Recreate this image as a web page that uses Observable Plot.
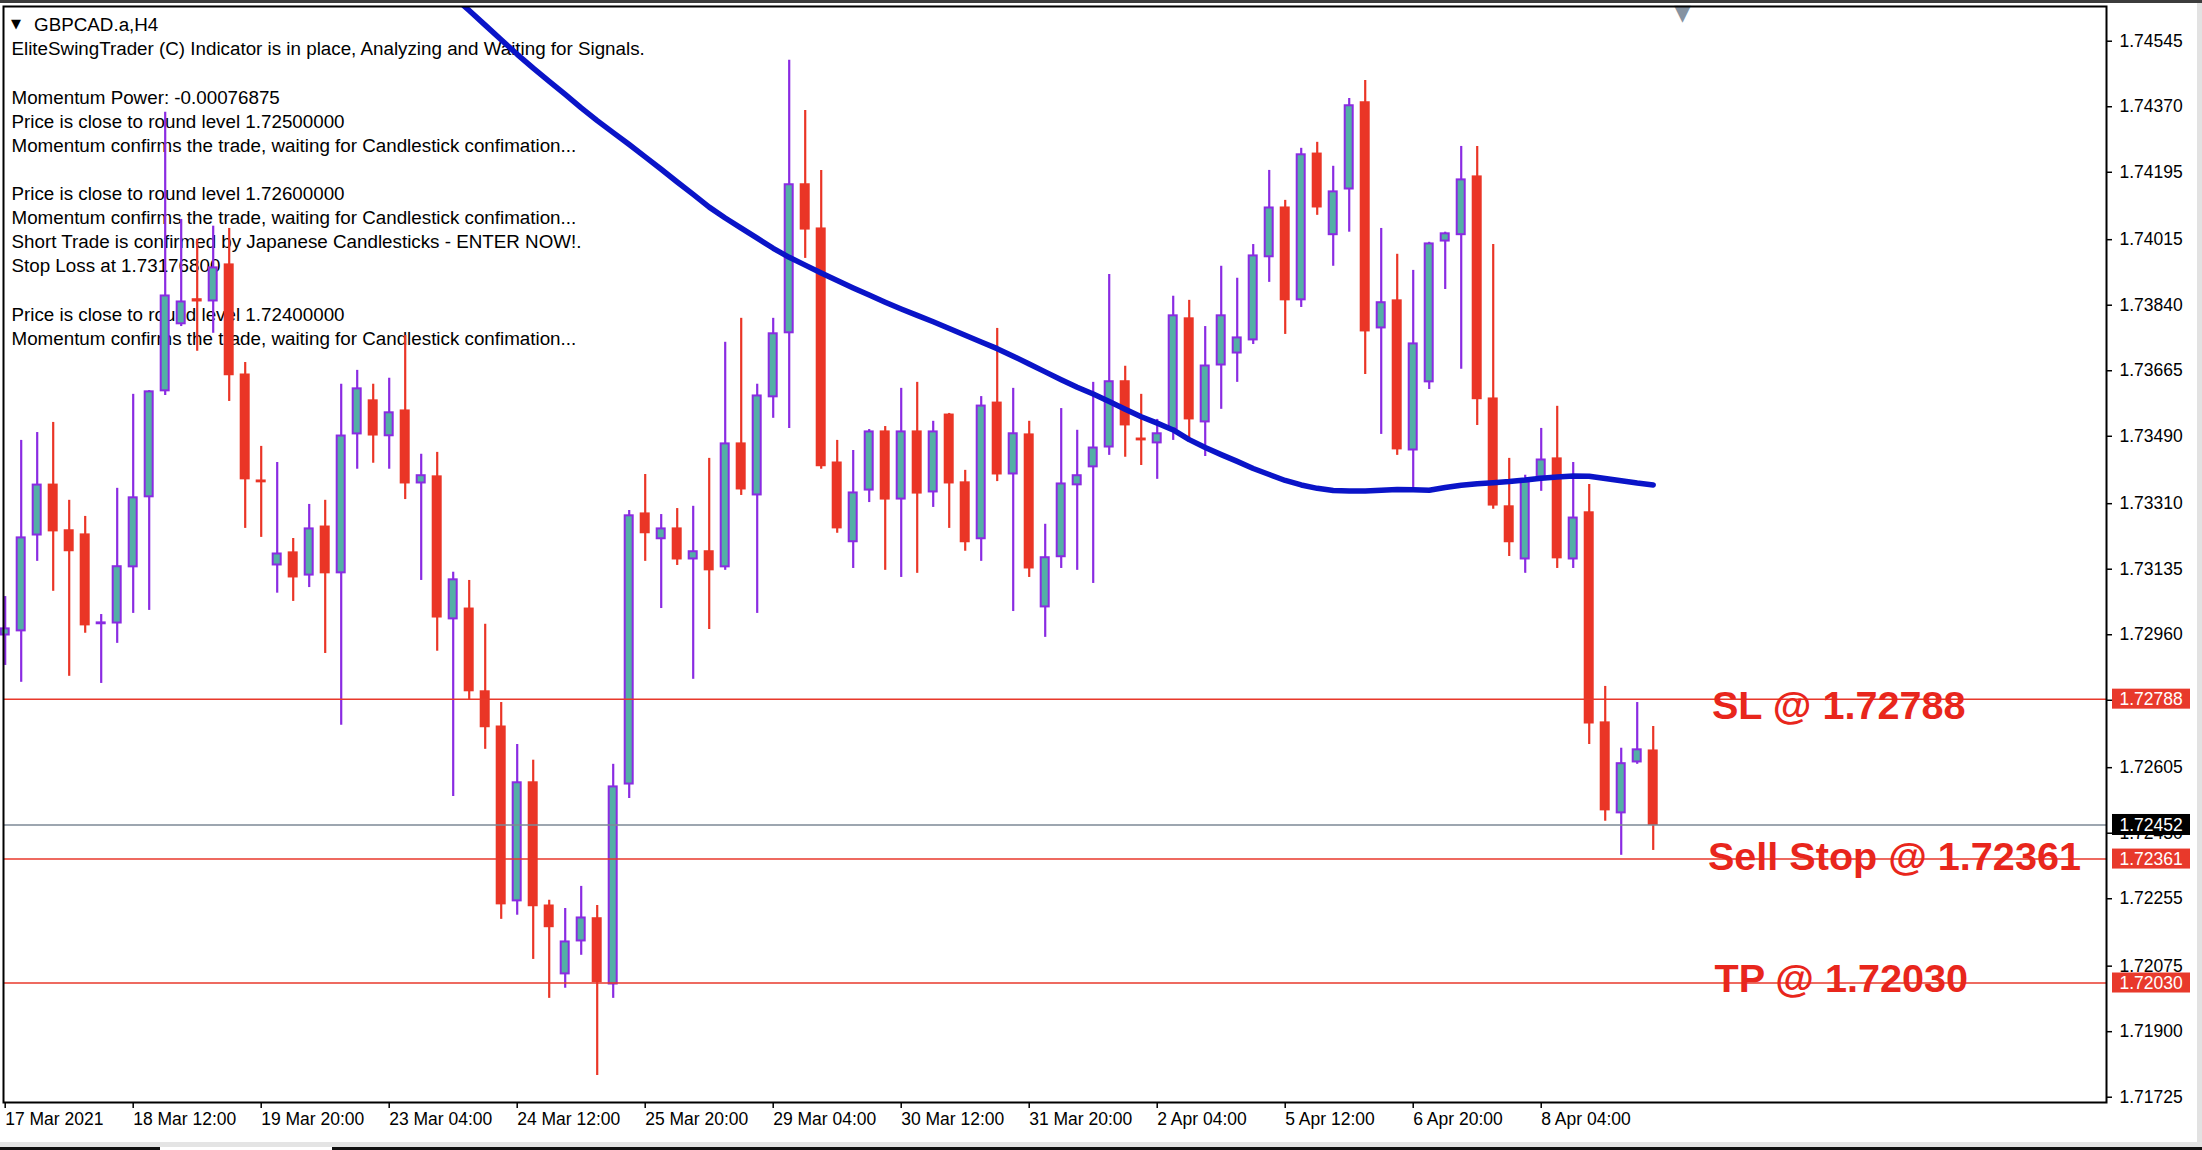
<!DOCTYPE html>
<html><head><meta charset="utf-8">
<script src="https://cdn.jsdelivr.net/npm/d3@7"></script>
<script src="https://cdn.jsdelivr.net/npm/@observablehq/plot@0.6"></script>
<style>
html,body{margin:0;padding:0;background:#fff;}
#wrap{position:relative;width:2202px;height:1150px;overflow:hidden;background:#fff;}
.chrome{position:absolute;}
</style></head><body>
<div id="wrap"></div>
<script>
// ---- data (GBPCAD.a, H4) ----
const openP  = [1.72958,1.72969,1.73225,1.73361,1.73239,1.73228,1.72988,1.72990,1.73140,1.73327,
1.73610,1.73789,1.73856,1.73850,1.73949,1.73655,1.73372,1.73145,1.73180,1.73118,
1.73249,1.73124,1.73495,1.73586,1.73490,1.73559,1.73364,1.73383,1.73001,1.73030,
1.72809,1.72715,1.72248,1.72566,1.72237,1.72053,1.72141,1.72203,1.72026,1.72560,
1.73284,1.73215,1.73244,1.73161,1.73183,1.73140,1.73471,1.73332,1.73594,1.73765,
1.74163,1.74045,1.73420,1.73207,1.73345,1.73503,1.73321,1.73503,1.73340,1.73548,
1.73367,1.73215,1.73580,1.73388,1.73495,1.73033,1.73167,1.73359,1.73407,1.73460,
1.73637,1.73484,1.73471,1.73508,1.73805,1.73527,1.73679,1.73711,1.73746,1.73968,
1.74101,1.73853,1.74245,1.74027,1.74149,1.74382,1.73778,1.73853,1.73452,1.73634,
1.74010,1.74027,1.74184,1.73591,1.73303,1.73161,1.73380,1.73431,1.73161,1.73287,
1.72726,1.72483,1.72619,1.72651];
const highP  = [1.73062,1.73479,1.73500,1.73527,1.73319,1.73276,1.73014,1.73351,1.73602,1.73612,
1.74355,1.74069,1.74016,1.74051,1.74045,1.73687,1.73463,1.73420,1.73217,1.73308,
1.73319,1.73629,1.73666,1.73629,1.73645,1.73759,1.73442,1.73447,1.73127,1.73105,
1.72988,1.72779,1.72667,1.72625,1.72251,1.72229,1.72288,1.72237,1.72614,1.73292,
1.73388,1.73281,1.73297,1.73303,1.73431,1.73741,1.73805,1.73629,1.73805,1.74494,
1.74360,1.74200,1.73479,1.73452,1.73508,1.73516,1.73618,1.73634,1.73530,1.73551,
1.73399,1.73596,1.73778,1.73618,1.73530,1.73255,1.73564,1.73506,1.73634,1.73922,
1.73677,1.73602,1.73535,1.73864,1.73853,1.73783,1.73944,1.73912,1.74002,1.74200,
1.74120,1.74259,1.74275,1.74211,1.74392,1.74440,1.74045,1.73976,1.73933,1.74008,
1.74035,1.74264,1.74264,1.74002,1.73431,1.73386,1.73511,1.73570,1.73420,1.73361,
1.72822,1.72657,1.72779,1.72715];
const lowP   = [1.72878,1.72833,1.73156,1.73076,1.72849,1.72964,1.72830,1.72937,1.73017,1.73025,
1.73599,1.73783,1.73717,1.73765,1.73583,1.73244,1.73220,1.73071,1.73049,1.73086,
1.72910,1.72718,1.73402,1.73418,1.73402,1.73321,1.73105,1.72916,1.72528,1.72787,
1.72654,1.72200,1.72211,1.72093,1.71989,1.72016,1.72104,1.71783,1.71989,1.72523,
1.73156,1.73030,1.73145,1.72841,1.72974,1.73132,1.73332,1.73017,1.73538,1.73511,
1.73965,1.73402,1.73231,1.73137,1.73313,1.73132,1.73113,1.73124,1.73300,1.73244,
1.73183,1.73156,1.73369,1.73022,1.73113,1.72953,1.73137,1.73132,1.73097,1.73439,
1.73434,1.73412,1.73375,1.73479,1.73474,1.73436,1.73562,1.73634,1.73735,1.73901,
1.73762,1.73834,1.74080,1.73944,1.74035,1.73655,1.73495,1.73439,1.73343,1.73615,
1.73882,1.73669,1.73519,1.73295,1.73169,1.73124,1.73343,1.73137,1.73137,1.72667,
1.72462,1.72371,1.72614,1.72384];
const closeP = [1.72977,1.73220,1.73361,1.73236,1.73183,1.72985,1.72993,1.73143,1.73327,1.73610,
1.73866,1.73850,1.73850,1.73941,1.73653,1.73375,1.73367,1.73177,1.73113,1.73244,
1.73124,1.73492,1.73618,1.73492,1.73554,1.73364,1.73386,1.73006,1.73108,1.72809,
1.72713,1.72240,1.72566,1.72235,1.72179,1.72141,1.72205,1.72032,1.72555,1.73279,
1.73231,1.73244,1.73161,1.73183,1.73132,1.73471,1.73348,1.73599,1.73765,1.74163,
1.74042,1.73410,1.73244,1.73340,1.73503,1.73321,1.73503,1.73337,1.73503,1.73364,
1.73207,1.73572,1.73388,1.73498,1.73137,1.73167,1.73364,1.73386,1.73460,1.73637,
1.73519,1.73479,1.73498,1.73813,1.73535,1.73679,1.73813,1.73754,1.73973,1.74101,
1.73853,1.74243,1.74101,1.74144,1.74374,1.73770,1.73848,1.73455,1.73738,1.74005,
1.74032,1.74176,1.73589,1.73305,1.73207,1.73369,1.73428,1.73164,1.73273,1.72723,
1.72491,1.72617,1.72654,1.72452];

// moving average (blue), starting at bar 27
const maStart = 27;
const maValues = [1.74705,1.74665,1.74627,1.74588,1.74549,1.74510,1.74473,1.74438,1.74403,1.74367,
1.74333,1.74301,1.74269,1.74236,1.74203,1.74169,1.74136,1.74102,1.74073,1.74046,
1.74019,1.73992,1.73968,1.73947,1.73926,1.73906,1.73886,1.73867,1.73848,1.73830,
1.73813,1.73796,1.73778,1.73760,1.73742,1.73724,1.73704,1.73683,1.73662,1.73641,
1.73621,1.73603,1.73583,1.73562,1.73542,1.73525,1.73507,1.73481,1.73460,1.73441,
1.73423,1.73404,1.73388,1.73372,1.73360,1.73351,1.73345,1.73344,1.73344,1.73346,
1.73348,1.73347,1.73346,1.73353,1.73359,1.73363,1.73366,1.73369,1.73373,1.73378,
1.73381,1.73384,1.73383,1.73377,1.73371,1.73365,1.73360];

const yTicks = [1.74545,1.74370,1.74195,1.74015,1.73840,1.73665,1.73490,1.73310,1.73135,1.72960,
1.72785,1.72605,1.72430,1.72255,1.72075,1.71900,1.71725];
const xTickBars = [0,8,16,24,32,40,48,56,64,72,80,88,96];
const xTickLabels = ["17 Mar 2021","18 Mar 12:00","19 Mar 20:00","23 Mar 04:00","24 Mar 12:00",
"25 Mar 20:00","29 Mar 04:00","30 Mar 12:00","31 Mar 20:00","2 Apr 04:00","5 Apr 12:00",
"6 Apr 20:00","8 Apr 04:00"];

const tradeLevels = [1.72788, 1.72361, 1.72030];        // SL, Sell Stop, TP
const currentPrice = 1.72452;
const levelTexts = ["SL @ 1.72788", "Sell Stop @ 1.72361", "TP @ 1.72030"];
const levelTextPrice = [1.72774, 1.72370, 1.72044];
const levelTextBar = [106.67, 106.42, 106.83];
const shiftMarkBar = 104.83;

const titleText = "GBPCAD.a,H4";
const infoLines = [
"EliteSwingTrader (C) Indicator is in place, Analyzing and Waiting for Signals.",
"",
"Momentum Power: -0.00076875",
"Price is close to round level 1.72500000",
"Momentum confirms the trade, waiting for Candlestick confimation...",
"",
"Price is close to round level 1.72600000",
"Momentum confirms the trade, waiting for Candlestick confimation...",
"Short Trade is confirmed by Japanese Candlesticks - ENTER NOW!.",
"Stop Loss at 1.73176800",
"",
"Price is close to round level 1.72400000",
"Momentum confirms the trade, waiting for Candlestick confimation..."
];

// ---- styles ----
const RED = "#ea3526", TEAL = "#53afa6", PURPLE = "#8a2be2", BLUE = "#0a14c8";
const LINE_RED = "#e8392b", GRAY = "#7d8896", LABEL_RED = "#e8261c";
const FONT = "'Liberation Sans', Arial, sans-serif";

const bars = openP.map((o, i) => ({i, o, h: highP[i], l: lowP[i], c: closeP[i]}));
const bull = bars.filter(d => d.c >= d.o);
const bear = bars.filter(d => d.c < d.o);
const ma = maValues.map((v, j) => ({i: maStart + j, v}));
const labelMap = new Map(xTickBars.map((b, j) => [b, xTickLabels[j]]));
const levelLabels = levelTexts.map((t, j) => ({t, p: levelTextPrice[j], b: levelTextBar[j]}));
const redTags = tradeLevels.map(p => ({p}));
const blackTags = [{p: currentPrice}];

const X_MIN = -0.106, X_MAX = 131.33;

const chart = Plot.plot({
  width: 2202, height: 1150,
  marginLeft: 3, marginRight: 96, marginTop: 6, marginBottom: 48,
  x: {domain: [X_MIN, X_MAX], axis: null},
  y: {domain: [1.717109, 1.746377], axis: null},
  style: {fontFamily: FONT, fontSize: "17.5px", background: "white", color: "black", overflow: "visible"},
  marks: [
    Plot.text([infoLines.join("\n")], {frameAnchor: "top-left", text: d => d, dx: 8, dy: 338.2,
      lineAnchor: "bottom", textAnchor: "start", fontSize: 18.8, lineHeight: 1.282, fill: "black"}),
    Plot.text([titleText], {frameAnchor: "top-left", text: d => d, dx: 30.6, dy: 24,
      lineAnchor: "bottom", textAnchor: "start", fontSize: 18.8, fill: "black"}),
    Plot.text(["\u25BC"], {frameAnchor: "top-left", text: d => d, dx: 7.5, dy: 21.5,
      lineAnchor: "bottom", textAnchor: "start", fontSize: 13, fill: "black", fontFamily: "DejaVu Sans"}),
    // wicks
    Plot.ruleX(bull, {x: "i", y1: "l", y2: "h", stroke: PURPLE, strokeWidth: 2.2}),
    Plot.ruleX(bear, {x: "i", y1: "l", y2: "h", stroke: RED, strokeWidth: 2.2}),
    // bodies
    Plot.rect(bull, {x1: "i", x2: "i", y1: "o", y2: "c", insetLeft: -4, insetRight: -4,
      insetTop: 0.5, insetBottom: 0.5, fill: TEAL, stroke: PURPLE, strokeWidth: 2}),
    Plot.rect(bear, {x1: "i", x2: "i", y1: "o", y2: "c", insetLeft: -5, insetRight: -5,
      insetTop: -0.5, insetBottom: -0.5, fill: RED}),
    // moving average
    Plot.line(ma, {x: "i", y: "v", stroke: BLUE, strokeWidth: 5.5, clip: true}),
    // trade levels
    Plot.ruleY(tradeLevels, {stroke: LINE_RED, strokeWidth: 1.5}),
    Plot.ruleY([currentPrice], {stroke: GRAY, strokeWidth: 1.5}),
    Plot.text(levelLabels, {x: "b", y: "p", text: "t", textAnchor: "start", lineAnchor: "middle", dy: 1.5,
      fill: LABEL_RED, fontSize: 39.6, fontWeight: "bold", fontFamily: FONT}),
    Plot.text([shiftMarkBar], {x: d => d, frameAnchor: "top", text: () => "\u25BC", lineAnchor: "top",
      dy: -2, fontSize: 22, fill: "#8593a2", fontFamily: "DejaVu Sans"}),
    Plot.frame({stroke: "black", strokeWidth: 2}),
    Plot.axisY({anchor: "right", ticks: yTicks, tickFormat: d => d.toFixed(5), tickSize: 5, tickPadding: 8,
      fontSize: 17.5, strokeWidth: 1.5}),
    Plot.axisX({anchor: "bottom", ticks: xTickBars, tickFormat: d => labelMap.get(d), tickSize: 6, tickPadding: 4,
      textAnchor: "start", fontSize: 17.5, strokeWidth: 1.5}),
    // price tags on the right
    Plot.rect(redTags, {x1: X_MAX, x2: X_MAX, y1: "p", y2: "p", insetLeft: 6, insetRight: -84,
      insetTop: -10, insetBottom: -10, fill: "#e8392b"}),
    Plot.rect(blackTags, {x1: X_MAX, x2: X_MAX, y1: "p", y2: "p", insetLeft: 6, insetRight: -84,
      insetTop: -10.5, insetBottom: -10.5, fill: "black"}),
    Plot.text(redTags.concat(blackTags), {x: X_MAX, y: "p", text: d => d.p.toFixed(5), dx: 13, textAnchor: "start",
      fill: "white", fontSize: 17.5})
  ]
});

const wrap = document.getElementById("wrap");
wrap.appendChild(chart);
function chrome(css) { const d = document.createElement("div"); d.className = "chrome"; d.style.cssText = css; wrap.appendChild(d); }
chrome("left:0;top:0;width:2202px;height:3px;background:#3c3c3c;");
chrome("left:2197px;top:3px;width:5px;height:1140px;background:#e2e2e2;");
chrome("left:0;top:1142px;width:2202px;height:5px;background:#e4e4e4;");
chrome("left:0;top:1147px;width:160px;height:3px;background:#111;");
chrome("left:332px;top:1147px;width:1870px;height:3px;background:#111;");
</script>
</body></html>
